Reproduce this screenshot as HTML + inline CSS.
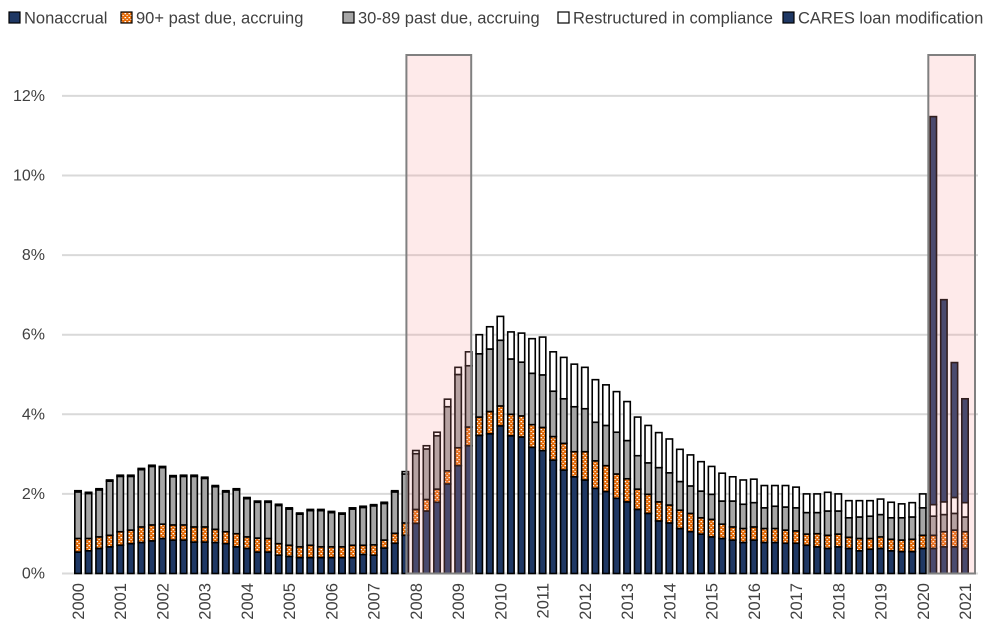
<!DOCTYPE html>
<html><head><meta charset="utf-8"><style>
body{margin:0;background:#fff;font-family:"Liberation Sans",sans-serif;}
svg text{font-family:"Liberation Sans",sans-serif;fill:#404040;}
</style></head><body>
<svg id="c" width="1000" height="632" xmlns="http://www.w3.org/2000/svg">
<defs>
<pattern id="dots" width="4" height="4" patternUnits="userSpaceOnUse">
<rect width="4" height="4" fill="#e46c0a"/><rect x="0.5" y="1" width="1.6" height="1.2" fill="#fff"/><rect x="2.5" y="3" width="1.2" height="1" fill="#fff"/>
</pattern>
</defs>
<g id="legend"></g>
<g id="grid"></g>
<g id="bars"></g>
<g id="shade"></g>
<g id="ylab"></g>
<g id="xlab"></g>
</svg>
<script>
const years=["2000","2001","2002","2003","2004","2005","2006","2007","2008","2009","2010","2011","2012","2013","2014","2015","2016","2017","2018","2019","2020","2021"];
const yTicks=[0,2,4,6,8,10,12];
// cumulative boundaries: nonaccrual, +90+, +30-89, +restructured; CARES amount stacked on top
const nonaccrual=[0.54,0.57,0.63,0.67,0.71,0.75,0.78,0.82,0.88,0.84,0.84,0.79,0.79,0.78,0.75,0.67,0.63,0.54,0.54,0.46,0.43,0.40,0.40,0.40,0.40,0.40,0.40,0.48,0.46,0.64,0.76,0.96,1.26,1.57,1.79,2.25,2.71,3.21,3.47,3.51,3.71,3.46,3.43,3.17,3.09,2.85,2.60,2.43,2.35,2.14,2.06,1.89,1.80,1.61,1.51,1.32,1.27,1.13,1.05,0.99,0.92,0.88,0.84,0.78,0.84,0.78,0.78,0.76,0.76,0.71,0.67,0.63,0.67,0.63,0.57,0.61,0.63,0.57,0.55,0.55,0.63,0.63,0.67,0.67,0.63];
const pastDue90=[0.88,0.88,0.92,0.96,1.05,1.09,1.17,1.22,1.24,1.22,1.22,1.17,1.17,1.11,1.05,1.00,0.92,0.89,0.88,0.75,0.71,0.67,0.71,0.67,0.67,0.67,0.71,0.71,0.72,0.84,1.01,1.27,1.61,1.86,2.12,2.58,3.16,3.68,3.93,4.07,4.21,4.00,3.96,3.74,3.67,3.44,3.27,3.06,3.06,2.83,2.71,2.50,2.38,2.12,1.99,1.80,1.72,1.59,1.51,1.40,1.36,1.24,1.17,1.13,1.17,1.13,1.13,1.09,1.07,0.99,1.00,0.96,0.99,0.91,0.88,0.88,0.92,0.86,0.84,0.86,0.96,0.96,1.05,1.09,1.05];
const pastDue30=[2.05,2.01,2.10,2.32,2.44,2.44,2.61,2.69,2.66,2.43,2.44,2.44,2.39,2.18,2.05,2.10,1.88,1.79,1.79,1.71,1.62,1.49,1.58,1.58,1.53,1.49,1.62,1.66,1.70,1.76,2.05,2.50,3.01,3.13,3.46,4.19,5.00,5.22,5.52,5.64,5.86,5.39,5.31,5.03,4.99,4.58,4.39,4.19,4.14,3.80,3.72,3.55,3.34,2.96,2.78,2.66,2.53,2.31,2.20,2.07,1.99,1.82,1.82,1.74,1.78,1.65,1.69,1.67,1.65,1.53,1.53,1.57,1.57,1.40,1.42,1.44,1.48,1.40,1.40,1.42,1.65,1.44,1.48,1.51,1.42];
const restructured=[2.08,2.04,2.13,2.35,2.47,2.47,2.64,2.72,2.69,2.46,2.47,2.47,2.42,2.21,2.08,2.13,1.91,1.82,1.82,1.74,1.65,1.52,1.61,1.61,1.56,1.52,1.65,1.69,1.73,1.79,2.08,2.56,3.09,3.21,3.55,4.38,5.18,5.57,6.00,6.20,6.46,6.07,6.04,5.90,5.94,5.57,5.43,5.26,5.18,4.87,4.74,4.57,4.32,3.93,3.72,3.54,3.38,3.12,2.98,2.81,2.69,2.52,2.43,2.35,2.37,2.21,2.21,2.21,2.17,2.00,2.00,2.04,2.00,1.83,1.83,1.83,1.87,1.79,1.75,1.78,2.00,1.73,1.80,1.91,1.78];
const cares=[0,0,0,0,0,0,0,0,0,0,0,0,0,0,0,0,0,0,0,0,0,0,0,0,0,0,0,0,0,0,0,0,0,0,0,0,0,0,0,0,0,0,0,0,0,0,0,0,0,0,0,0,0,0,0,0,0,0,0,0,0,0,0,0,0,0,0,0,0,0,0,0,0,0,0,0,0,0,0,0,0,9.75,5.08,3.39,2.61];
const shadeRanges=[[32,37],[81,84]];

const NS="http://www.w3.org/2000/svg";
const X0=78,DX=(965-78)/84,Y0=573.5,PX=39.8;
const xs=i=>X0+i*DX, ys=v=>Y0-v*PX;
function mk(t,a,p){const e=document.createElementNS(NS,t);for(const k in a)e.setAttribute(k,a[k]);p.appendChild(e);return e;}
const G=id=>document.getElementById(id);

yTicks.forEach(t=>{
  const l=mk('line',{x1:62,x2:978,y1:ys(t),y2:ys(t),stroke:'#d9d9d9','stroke-width':2},G('grid'));
  
  
  const tx=mk('text',{x:45,y:ys(t)+5,'text-anchor':'end','font-size':16},G('ylab'));
  tx.textContent=t+'%';
  
  
});
years.forEach((y,k)=>{
  const x=xs(k*4);
  const tx=mk('text',{x:0,y:0,'text-anchor':'end','font-size':16.5,transform:`translate(${x+6},583) rotate(-90)`},G('xlab'));
  tx.textContent=y;
  
  
});
const W=6.4;
for(let i=0;i<nonaccrual.length;i++){
  const segs=[[0,nonaccrual[i],'#1f3864','nonaccrual'],[nonaccrual[i],pastDue90[i],'url(#dots)','past-due-90'],[pastDue90[i],pastDue30[i],'#a6a6a6','past-due-30-89'],[pastDue30[i],restructured[i],'#ffffff','restructured'],[restructured[i],restructured[i]+cares[i],'#1f3864','cares']];
  segs.forEach(s=>{
    if(s[1]-s[0]<=0.001)return;
    const r=mk('rect',{x:xs(i)-W/2,y:ys(s[1]),width:W,height:ys(s[0])-ys(s[1]),fill:s[2],stroke:'#000','stroke-width':1.6},G('bars'));
    
    
  });
}
shadeRanges.forEach((r,k)=>{
  const x1=k==0?xs(r[0])-9.5:xs(r[0])-5, x2=k==0?xs(r[1])+2.5:xs(r[1])+10;
  const s=mk('rect',{x:x1,y:55,width:x2-x1,height:Y0-55,fill:'rgba(250,150,150,0.2)',stroke:'#808080','stroke-width':2},G('shade'));
  
  
});
const leg=[['Nonaccrual','#1f3864',8],['90+ past due, accruing','url(#dots)',120],['30-89 past due, accruing','#a6a6a6',342],['Restructured in compliance','#ffffff',557],['CARES loan modification','#1f3864',782]];
leg.forEach(l=>{
  const r=mk('rect',{x:l[2]+1,y:12,width:11,height:11,fill:l[1],stroke:'#000','stroke-width':1.2},G('legend'));
  
  
  const t=mk('text',{x:l[2]+16,y:23.5,'font-size':16.5},G('legend'));
  t.textContent=l[0];
  
  
});
</script>
</body></html>
